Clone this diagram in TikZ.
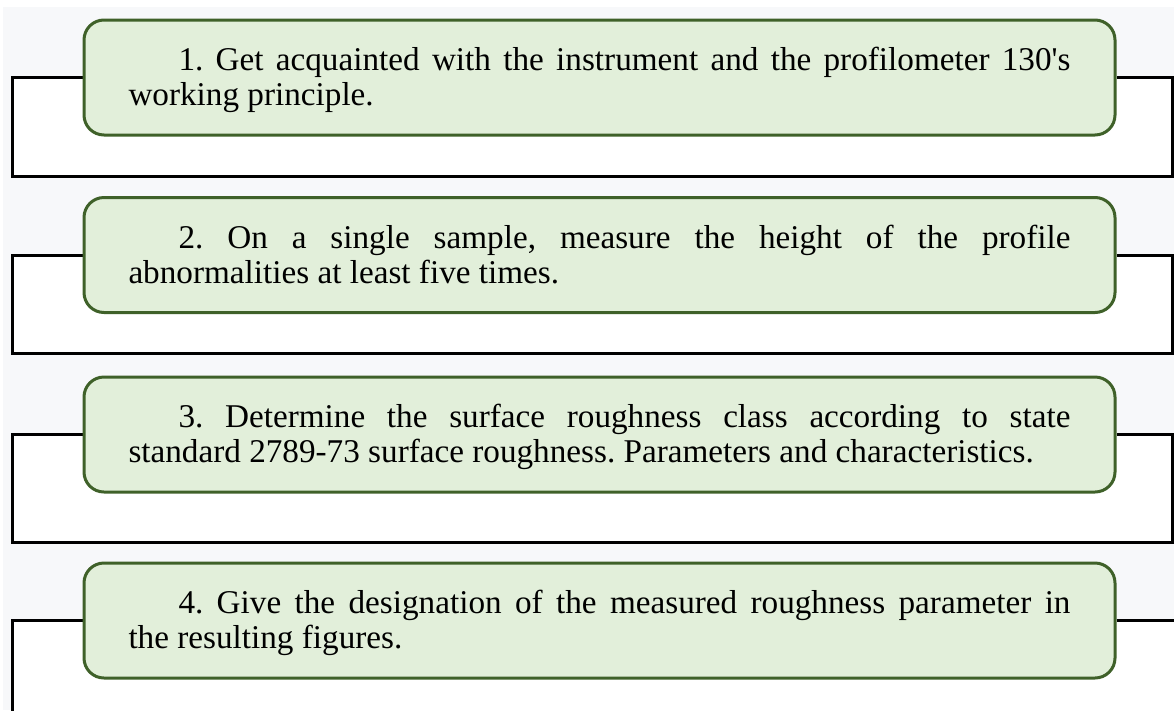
\documentclass[tikz,border=0pt]{standalone}
\usepackage{fontspec}
\setmainfont{Liberation Serif}
\usetikzlibrary{backgrounds}
\definecolor{boxfill}{HTML}{E2EFDA}
\definecolor{boxline}{HTML}{3F6129}
\definecolor{bgfill}{HTML}{F7F8FA}
\frenchspacing
\newcommand{\topstrut}{\rule{0pt}{30pt}}
\newcommand{\botstrut}{\rule[-9pt]{0pt}{9pt}}
\begin{document}
\begin{tikzpicture}[x=1pt,y=-1pt,
  stepbox/.style={draw=boxline, line width=3pt, fill=boxfill, rounded corners=20pt,
    minimum width=1031pt, minimum height=115pt, inner sep=0pt,
    text width=942pt, align=justify, font=\fontsize{33.2}{35}\selectfont},
  frame/.style={draw=black, line width=3pt}]
\useasboundingbox (0,0) rectangle (1174,710);
% boxes
\node[stepbox] (b1) at (599.5,77.5) {\topstrut\hspace*{50pt}1. Get acquainted with the instrument and the profilometer 130\textquotesingle s\linebreak working principle.\botstrut};
\node[stepbox] (b2) at (599.5,255) {\topstrut\hspace*{50pt}2. On a single sample, measure the height of the profile\linebreak abnormalities at least five times.\botstrut};
\node[stepbox] (b3) at (599.5,434.5) {\topstrut\hspace*{50pt}3. Determine the surface roughness class according to state\linebreak standard 2789-73 surface roughness. Parameters and characteristics.\botstrut};
\node[stepbox] (b4) at (599.5,620.5) {\topstrut\hspace*{50pt}4. Give the designation of the measured roughness parameter in\linebreak the resulting figures.\botstrut};
\coordinate (l1) at (12,176); \coordinate (r1) at (1172,176);
\coordinate (l2) at (12,353); \coordinate (r2) at (1172,353);
\coordinate (l3) at (12,542); \coordinate (r3) at (1172,542);
\coordinate (l4) at (12,715); \coordinate (r4) at (1180,620.5);
\begin{scope}[on background layer]
\fill[white] (0,0) rectangle (1174,710);
\fill[bgfill] (3,7) rectangle (1174,710);
\fill[white] (12,77.5) rectangle (1172,176);
\fill[white] (12,255) rectangle (1172,353);
\fill[white] (12,434.5) rectangle (1172,542);
\fill[white] (12,620.5) rectangle (1180,720);
\draw[frame] (b1.west) -| (l1) -- (r1) |- (b1.east);
\draw[frame] (b2.west) -| (l2) -- (r2) |- (b2.east);
\draw[frame] (b3.west) -| (l3) -- (r3) |- (b3.east);
\draw[frame] (b4.west) -| (l4);
\draw[frame] (b4.east) -- (r4);
\end{scope}
\end{tikzpicture}
\end{document}
